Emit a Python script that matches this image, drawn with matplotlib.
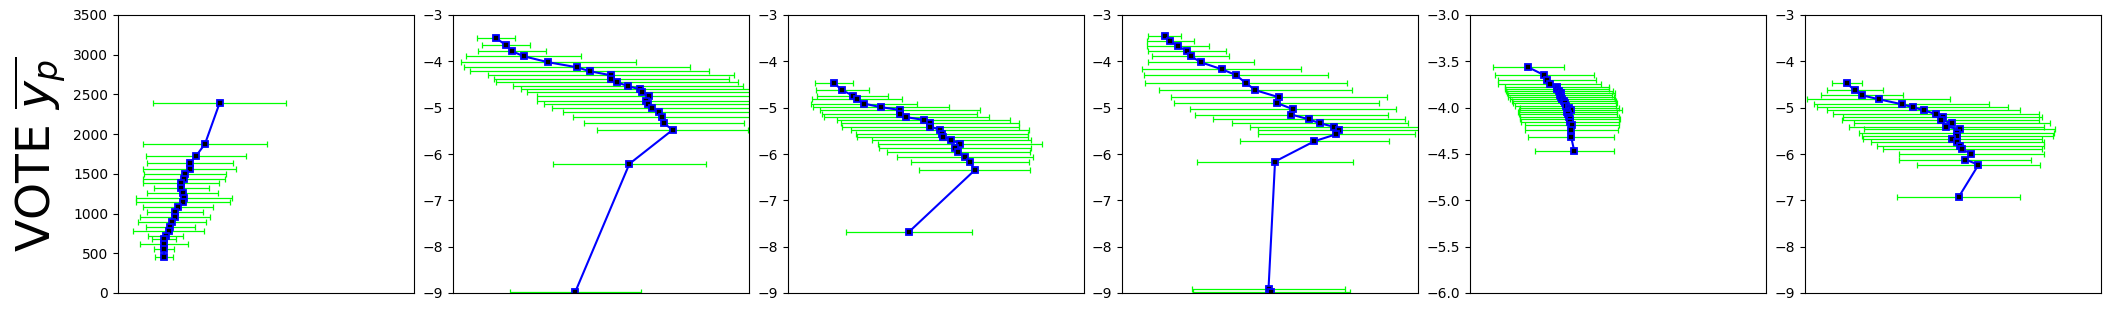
import matplotlib
matplotlib.use('Agg')
import matplotlib.pyplot as plt

# panel 1 (VOTE)
x1 = [34.3, 29.4, 26.4, 24.3, 24.3, 22.6, 22.3, 21.3, 21.3, 21.8, 22.3, 22.0,
      20.3, 19.3, 19.3, 18.2, 17.6, 17.2, 16.2, 15.5, 15.5, 15.5, 15.5]
e1 = [22.5, 20.8, 16.8, 14.4, 15.7, 13.9, 13.7, 12.9, 9.3, 11.9, 16.2, 15.8,
      11.7, 9.5, 11.8, 11.4, 8.3, 12.0, 5.9, 4.1, 8.0, 3.3, 3.0]
y1 = [2389, 1878, 1727, 1635, 1563, 1496, 1434, 1383, 1320, 1262, 1195, 1144,
      1081, 1014, 956, 897, 834, 780, 717, 679, 616, 553, 453]

# panel 2
x2 = [14.6, 18.0, 20.0, 23.9, 32.2, 41.9, 46.2, 53.4, 53.4, 55.4, 59.2, 63.1,
      63.9, 66.3, 65.2, 65.8, 67.2, 69.7, 70.6, 71.2, 74.2, 59.6, 41.3]
e2 = [6.4, 8.1, 11.5, 19.4, 29.5, 38.2, 40.4, 41.5, 39.7, 40.8, 38.8, 40.1,
      38.9, 38.0, 36.7, 35.1, 33.7, 32.5, 30.0, 27.0, 25.5, 25.9, 22.2]
y2 = [-3.503, -3.654, -3.783, -3.891, -4.020, -4.128, -4.214, -4.301, -4.372,
      -4.451, -4.538, -4.602, -4.667, -4.753, -4.847, -4.926, -5.012, -5.098,
      -5.206, -5.335, -5.479, -6.212, -8.978]

# panel 3
x3 = [15.5, 18.4, 21.8, 23.2, 25.6, 31.4, 37.8, 37.8, 40.0, 45.8, 48.0, 48.0,
      51.3, 52.1, 52.2, 55.2, 58.0, 56.4, 57.6, 59.7, 61.4, 63.1, 40.8]
e3 = [6.5, 8.9, 11.9, 15.2, 17.9, 23.1, 27.0, 26.2, 27.9, 29.1, 30.2, 29.9,
      30.0, 29.0, 29.0, 26.9, 27.7, 25.7, 24.3, 23.0, 19.9, 18.7, 21.3]
y3 = [-4.473, -4.624, -4.739, -4.818, -4.911, -4.990, -5.048, -5.141, -5.206,
      -5.263, -5.335, -5.407, -5.479, -5.558, -5.623, -5.695, -5.781, -5.860,
      -5.960, -6.054, -6.176, -6.348, -7.685]

# panel 4
x4 = [14.5, 16.3, 19.0, 21.9, 23.2, 26.6, 33.7, 38.4, 41.8, 45.1, 53.0, 52.2,
      57.8, 57.2, 63.1, 66.8, 71.7, 73.4, 72.4, 65.0, 51.7, 49.5, 50.5]
e4 = [5.6, 7.9, 10.5, 13.1, 12.9, 17.9, 26.8, 31.1, 34.1, 32.5, 36.5, 34.7,
      34.9, 32.5, 32.5, 29.8, 28.6, 27.3, 26.5, 25.1, 26.2, 25.7, 26.6]
y4 = [-3.453, -3.568, -3.668, -3.783, -3.884, -4.020, -4.171, -4.293, -4.466,
      -4.624, -4.775, -4.897, -5.034, -5.149, -5.250, -5.335, -5.415, -5.479,
      -5.573, -5.724, -6.162, -8.907, -8.978]

# panel 5
x5 = [19.7, 25.1, 25.9, 26.9, 29.3, 29.5, 30.2, 30.8, 30.4, 30.7, 31.2, 31.8,
      32.1, 32.3, 33.6, 34.0, 32.9, 33.1, 33.6, 33.9, 33.7, 34.4, 34.2, 34.2, 35.2]
e5 = [12.0, 16.7, 16.5, 17.5, 17.6, 17.6, 18.0, 18.2, 17.7, 17.8, 17.8, 17.6,
      17.7, 17.1, 16.8, 17.5, 16.6, 16.7, 16.7, 16.9, 16.5, 15.9, 15.7, 14.6, 13.3]
y5 = [-3.564, -3.650, -3.697, -3.747, -3.772, -3.794, -3.816, -3.841, -3.859,
      -3.884, -3.905, -3.931, -3.952, -3.977, -4.006, -4.024, -4.049, -4.071,
      -4.096, -4.125, -4.153, -4.189, -4.243, -4.319, -4.466]

# panel 6
x6 = [14.1, 16.8, 19.2, 24.9, 32.7, 36.4, 40.1, 44.2, 46.5, 45.8, 49.8, 47.8,
      52.2, 51.2, 51.5, 49.8, 51.5, 52.5, 53.2, 56.2, 54.2, 58.6, 51.9]
e6 = [5.0, 9.4, 13.8, 24.1, 29.5, 32.3, 32.7, 34.7, 33.7, 33.2, 33.1, 32.9,
      32.3, 32.8, 32.3, 30.1, 29.3, 28.1, 26.9, 24.4, 22.3, 20.9, 20.9]
y6 = [-4.473, -4.624, -4.732, -4.818, -4.926, -4.990, -5.055, -5.141, -5.206,
      -5.271, -5.335, -5.407, -5.465, -5.537, -5.616, -5.681, -5.745, -5.832,
      -5.896, -6.004, -6.119, -6.234, -6.931]

panels = [(x1, y1, e1), (x2, y2, e2), (x3, y3, e3),
          (x4, y4, e4), (x5, y5, e5), (x6, y6, e6)]
ylims = [(0, 3500), (-9, -3), (-9, -3), (-9, -3), (-6, -3), (-9, -3)]

W, H = 2111, 311
fig = plt.figure(figsize=(W / 100, H / 100), dpi=100)
lefts = [118, 453, 788, 1122, 1470, 1805]
top, bottom, width = 15, 293, 296

for i, (x, y, e) in enumerate(panels):
    ax = fig.add_axes([lefts[i] / W, 1 - bottom / H, width / W, (bottom - top) / H])
    ax.errorbar(x, y, xerr=e, fmt='none', ecolor='#00ff00', elinewidth=0.9,
                capsize=2, capthick=0.9)
    ax.plot(x, y, '-', color='blue', lw=1.5, marker='s', ms=4,
            mfc='black', mec='blue', mew=1.3)
    ax.set_xlim(0, 100)
    ax.set_ylim(*ylims[i])
    ax.set_xticks([])
    if i == 0:
        ax.set_ylabel(r'VOTE $\overline{y_p}$', fontsize=34)

fig.savefig('out.png', dpi=100)
